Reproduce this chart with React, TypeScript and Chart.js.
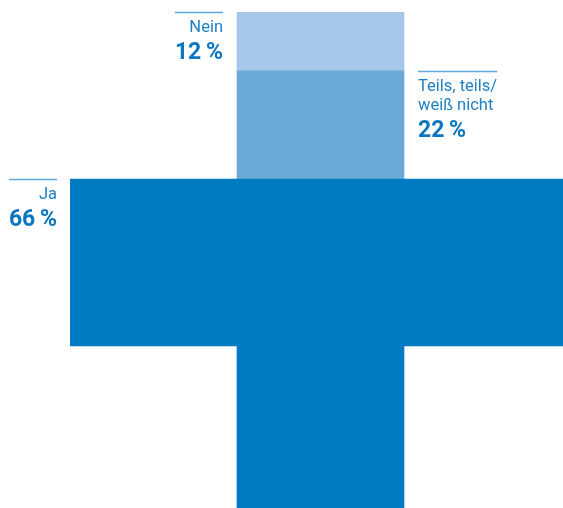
import { useEffect, useRef } from 'react';
import { Chart, registerables } from 'chart.js';

Chart.register(...registerables);

// Answer categories and their shares (percent)
const categories = ['Ja', 'Teils, teils/', 'Nein'];
const categorySubLines = ['', 'weiß nicht', ''];
const values = [66, 22, 12];
// Columns of the cross (left arm, centre column, right arm)
const columns = ['links', 'mitte', 'rechts'];

const COLORS = {
  ja: '#007BC2',
  teils: '#6BAAD8',
  nein: '#A6C8E8',
  rule: '#5EA9DC',
  label: '#1F80C3',
  number: '#0A76BD',
};

export default function App() {
  const ref = useRef<HTMLCanvasElement>(null);

  useEffect(() => {
    if (!ref.current) return;
    const topShare = values[1] + values[2];
    const split = 2 + values[1] / topShare;

    const jaData: any[] = [[1, 2], [0, 2], [1, 2]];
    const teilsData: any[] = [null, [2, split], null];
    const neinData: any[] = [null, [split, 3], null];

    const fmt = (v: number) => `${v}\u2009%`;

    const labelPlugin = {
      id: 'crossLabels',
      afterDatasetsDraw(chart: any) {
        const ctx = chart.ctx as CanvasRenderingContext2D;
        const jaEl = chart.getDatasetMeta(0).data[0];
        const teilsEl = chart.getDatasetMeta(1).data[1];
        const neinEl = chart.getDatasetMeta(2).data[1];
        const gap = 14;

        const drawLabel = (
          lines: string[],
          num: string,
          anchorX: number,
          topY: number,
          align: 'left' | 'right'
        ) => {
          ctx.save();
          const regFont = '16.5px Roboto';
          const boldFont = 'bold 23px Roboto';
          ctx.font = regFont;
          let w = 0;
          lines.forEach((l) => (w = Math.max(w, ctx.measureText(l).width)));
          ctx.font = boldFont;
          w = Math.max(w, ctx.measureText(num).width);
          const x0 = align === 'right' ? anchorX - w : anchorX;
          const x1 = align === 'right' ? anchorX : anchorX + w;
          ctx.strokeStyle = COLORS.rule;
          ctx.lineWidth = 1.5;
          ctx.beginPath();
          ctx.moveTo(x0, topY + 0.5);
          ctx.lineTo(x1, topY + 0.5);
          ctx.stroke();
          ctx.textAlign = align;
          ctx.textBaseline = 'middle';
          ctx.font = regFont;
          ctx.fillStyle = COLORS.label;
          let y = topY + 16;
          lines.forEach((l) => {
            ctx.fillText(l, anchorX, y);
            y += 19;
          });
          ctx.font = boldFont;
          ctx.fillStyle = COLORS.number;
          ctx.fillText(num, anchorX, y + 6);
          ctx.restore();
        };

        // Nein: left of centre column, aligned with top of cross
        drawLabel(
          [categories[2]],
          fmt(values[2]),
          neinEl.x - neinEl.width / 2 - gap,
          Math.min(neinEl.y, neinEl.base),
          'right'
        );
        // Teils: right of centre column, aligned with split
        drawLabel(
          [categories[1], categorySubLines[1]],
          fmt(values[1]),
          teilsEl.x + teilsEl.width / 2 + gap,
          Math.min(teilsEl.y, teilsEl.base),
          'left'
        );
        // Ja: left of left arm
        drawLabel(
          [categories[0]],
          fmt(values[0]),
          jaEl.x - jaEl.width / 2 - 13,
          Math.min(jaEl.y, jaEl.base),
          'right'
        );
      },
    };

    const chart = new Chart(ref.current, {
      type: 'bar',
      data: {
        labels: columns,
        datasets: [
          { label: categories[0], data: jaData, backgroundColor: COLORS.ja, grouped: false, barPercentage: 1, categoryPercentage: 1, borderWidth: 0 } as any,
          { label: categories[1], data: teilsData, backgroundColor: COLORS.teils, grouped: false, barPercentage: 1, categoryPercentage: 1, borderWidth: 0 } as any,
          { label: categories[2], data: neinData, backgroundColor: COLORS.nein, grouped: false, barPercentage: 1, categoryPercentage: 1, borderWidth: 0 } as any,
        ],
      },
      options: {
        animation: false,
        responsive: false,
        maintainAspectRatio: false,
        layout: { padding: { left: 70, right: 0, top: 12, bottom: 0 } },
        plugins: { legend: { display: false }, tooltip: { enabled: false } },
        scales: {
          x: { display: false, offset: true },
          y: { display: false, min: 0, max: 3 },
        },
      },
      plugins: [labelPlugin],
    });
    return () => chart.destroy();
  }, []);

  return (
    <div style={{ position: 'fixed', left: 0, top: 0, width: 563, height: 508, overflow: 'hidden', background: '#fff' }}>
      <canvas ref={ref} width={571} height={513} style={{ display: 'block' }} />
    </div>
  );
}
